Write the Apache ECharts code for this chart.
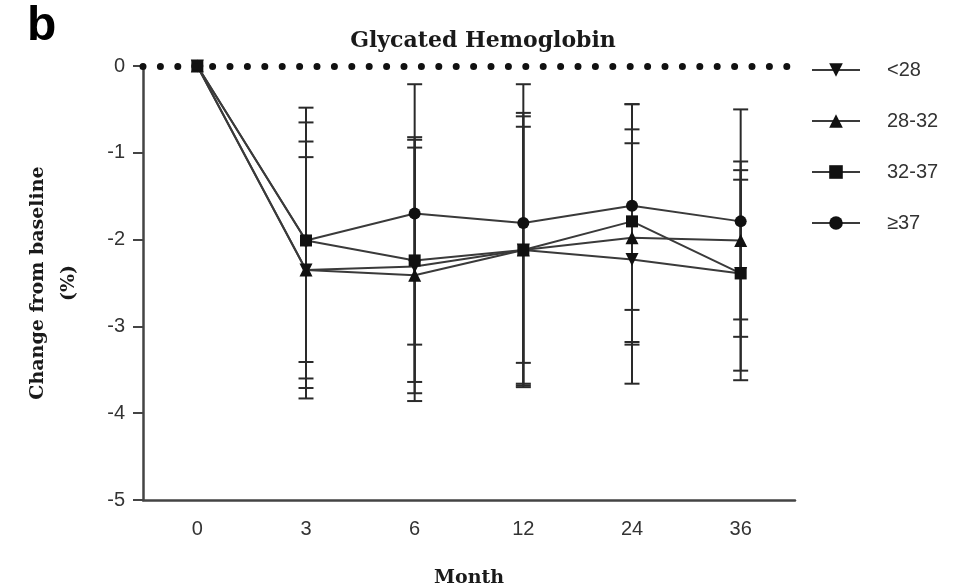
<!DOCTYPE html>
<html>
<head>
<meta charset="utf-8">
<script src="https://cdn.jsdelivr.net/npm/echarts@6/dist/echarts.min.js"></script>
<style>
  html, body { margin: 0; padding: 0; background: #fff; }
  #container { width: 966px; height: 587px; }
</style>
</head>
<body>
<div id="container"></div>
<script>
// months on the x axis
const months = ['0', '3', '6', '12', '24', '36'];
const yTicks = [0, -1, -2, -3, -4, -5];

// group means (change from baseline, %)
const lt28 = [0, -2.35, -2.31, -2.12, -2.23, -2.39];
const r28_32 = [0, -2.35, -2.41, -2.12, -1.98, -2.01];
const r32_37 = [0, -2.01, -2.24, -2.12, -1.79, -2.39];
const ge37 = [0, -2.01, -1.70, -1.81, -1.61, -1.79];

// error bar ends (lower / upper)
const lt28Low = [null, -3.71, -3.77, -3.66, -3.66, -3.51];
const lt28High = [null, -1.05, -0.82, -0.70, -0.89, -1.31];
const r28_32Low = [null, -3.83, -3.86, -3.70, -3.21, -2.92];
const r28_32High = [null, -0.87, -0.94, -0.58, -0.73, -1.10];
const r32_37Low = [null, -3.60, -3.64, -3.68, -3.18, -3.62];
const r32_37High = [null, -0.48, -0.85, -0.54, -0.44, -1.20];
const ge37Low = [null, -3.41, -3.21, -3.42, -2.81, -3.12];
const ge37High = [null, -0.65, -0.21, -0.21, -0.44, -0.50];

const groups = [
    { name: '<28', mean: lt28, low: lt28Low, high: lt28High, symbol: 'triangle', rotate: 180 },
    { name: '28-32', mean: r28_32, low: r28_32Low, high: r28_32High, symbol: 'triangle', rotate: 0 },
    { name: '32-37', mean: r32_37, low: r32_37Low, high: r32_37High, symbol: 'rect', rotate: 0 },
    { name: '≥37', mean: ge37, low: ge37Low, high: ge37High, symbol: 'circle', rotate: 0 }
];

const ink = '#2a2a2a';
const serif = 'DejaVu Serif';
const sans = 'Liberation Sans';

function renderErr(params, api) {
    let i = api.value(0);
    let lo = api.coord([i, api.value(1)]);
    let hi = api.coord([i, api.value(2)]);
    let hw = 7.5;
    let style = { stroke: ink, lineWidth: 2 };
    return {
        type: 'group',
        children: [
            { type: 'line', shape: { x1: lo[0], y1: lo[1], x2: hi[0], y2: hi[1] }, style: style },
            { type: 'line', shape: { x1: lo[0] - hw, y1: lo[1], x2: lo[0] + hw, y2: lo[1] }, style: style },
            { type: 'line', shape: { x1: hi[0] - hw, y1: hi[1], x2: hi[0] + hw, y2: hi[1] }, style: style }
        ]
    };
}

let series = [];
groups.forEach(function (g, k) {
    let errData = [];
    for (let i = 0; i < months.length; i++) {
        if (g.low[i] !== null) errData.push([i, g.low[i], g.high[i]]);
    }
    series.push({
        name: g.name + ' err',
        type: 'custom',
        renderItem: renderErr,
        encode: { x: 0, y: [1, 2] },
        data: errData,
        silent: true,
        z: 1
    });
    let line = {
        name: g.name,
        type: 'line',
        data: g.mean,
        symbol: g.symbol,
        symbolRotate: g.rotate,
        symbolSize: g.symbol === 'triangle' ? 13 : 12,
        lineStyle: { color: '#3a3a3a', width: 2 },
        itemStyle: { color: '#111' },
        z: g.symbol === 'rect' ? 4 : 3,
        animation: false
    };
    if (k === 0) {
        line.markLine = {
            silent: true,
            symbol: 'none',
            label: { show: false },
            lineStyle: { type: [0, 17.4], cap: 'round', width: 7, color: '#111' },
            data: [{ yAxis: 0 }]
        };
    }
    series.push(line);
});

let dom = document.getElementById('container');
let myChart = echarts.init(dom, null, { renderer: 'canvas' });

let option = {
    animation: false,
    backgroundColor: '#fff',
    title: {
        text: 'Glycated Hemoglobin',
        left: 'center',
        top: 25,
        textStyle: { fontFamily: serif, fontWeight: 'bold', fontSize: 22, color: '#1a1a1a' }
    },
    graphic: [{
        type: 'text',
        left: 27,
        top: 3,
        style: { text: 'b', font: 'bold 48px "Liberation Sans"', fill: '#000' }
    }],
    legend: {
        data: groups.map(function (g) { return g.name; }),
        orient: 'vertical',
        left: 806,
        top: 55,
        itemWidth: 48,
        itemHeight: 17,
        itemGap: 31,
        textStyle: { fontFamily: sans, fontSize: 20, color: '#333', padding: [0, 0, 0, 22] }
    },
    grid: { left: 143, right: 171, top: 66, bottom: 87, outerBoundsMode: 'none' },
    xAxis: {
        type: 'category',
        data: months,
        name: 'Month',
        nameLocation: 'middle',
        nameGap: 69,
        nameTextStyle: { fontFamily: serif, fontWeight: 'bold', fontSize: 19, color: '#1a1a1a' },
        axisLine: { onZero: false, lineStyle: { color: '#444', width: 2.5 } },
        axisTick: { alignWithLabel: true, length: 8, lineStyle: { color: '#444', width: 2 } },
        axisLabel: { fontFamily: sans, fontSize: 20, color: '#333', margin: 19 },
        splitLine: { show: false }
    },
    yAxis: {
        type: 'value',
        min: yTicks[yTicks.length - 1],
        max: yTicks[0],
        interval: 1,
        name: 'Change from baseline\n(%)',
        nameLocation: 'middle',
        nameGap: 58,
        nameTextStyle: { fontFamily: serif, fontWeight: 'bold', fontSize: 19, color: '#1a1a1a', lineHeight: 31 },
        axisLine: { show: true, lineStyle: { color: '#444', width: 2.5 } },
        axisTick: { show: true, length: 10, lineStyle: { color: '#444', width: 2 } },
        axisLabel: { fontFamily: sans, fontSize: 20, color: '#333', margin: 18 },
        splitLine: { show: false }
    },
    series: series
};
myChart.setOption(option);
</script>
</body>
</html>
